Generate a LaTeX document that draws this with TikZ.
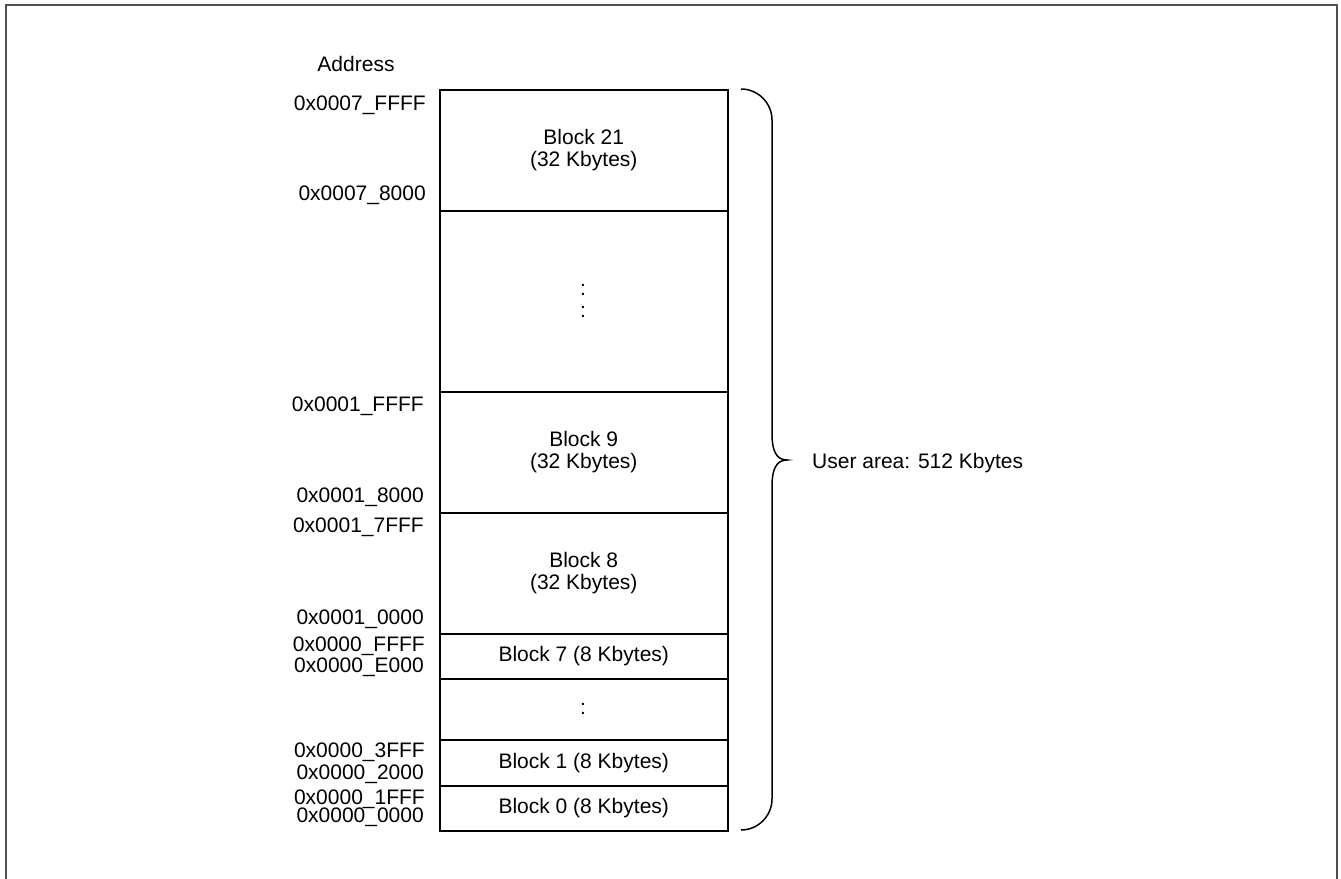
\documentclass[tikz,border=0pt]{standalone}
\usepackage{fontspec}
\setmainfont{Liberation Sans}
\newcommand{\fs}{\fontsize{21}{22}\selectfont}
\definecolor{framegray}{RGB}{80,80,80}
\begin{document}
\begin{tikzpicture}[x=1pt,y=-1pt,
  blk/.style={draw, line width=1.5pt, minimum width=288pt, inner sep=0pt, anchor=north west, align=center, font=\fs},
  addr/.style={anchor=base east, inner sep=0pt, font=\fs},
  plain/.style={inner sep=0pt, font=\fs},
  brace/.style={line width=1.5pt},
  ]
\useasboundingbox (0,0) rectangle (1341,878);
\draw[line width=1.5pt, color=framegray] (6,885) -- (6,5) -- (1337,5) -- (1337,885);

% blocks
\node[blk, minimum height=121pt] (b21) at (439,89) {Block 21\\(32 Kbytes)};
\node[blk, minimum height=181pt] (dots1) at (439,210) {};
\node[blk, minimum height=121pt] (b9) at (439,391) {Block 9\\(32 Kbytes)};
\node[blk, minimum height=121pt] (b8) at (439,512) {Block 8\\(32 Kbytes)};
\node[blk, minimum height=45pt] (b7) at (439,633) {Block 7 (8 Kbytes)};
\node[blk, minimum height=61pt] (dots2) at (439,678) {};
\node[blk, minimum height=46pt] (b1) at (439,739) {Block 1 (8 Kbytes)};
\node[blk, minimum height=45pt] (b0) at (439,785) {Block 0 (8 Kbytes)};

% ellipsis marks
\node[plain] (c1) at (583,289.5) {:};
\node[plain] (c2) at (583,311.5) {:};
\node[plain] (c3) at (583,709) {:};

% addresses
\node[plain, anchor=base] (addrtitle) at (356,71) {Address};
\node[addr] (a1) at (426,110.5) {0x0007\_FFFF};
\node[addr] (a2) at (426,200) {0x0007\_8000};
\node[addr] (a3) at (424,411.5) {0x0001\_FFFF};
\node[addr] (a4) at (424,502.5) {0x0001\_8000};
\node[addr] (a5) at (424,532) {0x0001\_7FFF};
\node[addr] (a6) at (424,624.5) {0x0001\_0000};
\node[addr] (a7) at (425,651.5) {0x0000\_FFFF};
\node[addr] (a8) at (424,672) {0x0000\_E000};
\node[addr] (a9) at (425,757.5) {0x0000\_3FFF};
\node[addr] (a10) at (424,779) {0x0000\_2000};
\node[addr] (a11) at (425,804) {0x0000\_1FFF};
\node[addr] (a12) at (424,822.5) {0x0000\_0000};

% brace
\coordinate (btop) at (741,89);
\coordinate (tip) at (787,460);
\coordinate (bbot) at (741,830);
\draw[brace] (btop) .. controls (758,89) and (772,103) .. (772,120)
  -- (772,434) .. controls (772,450) and (776,460) .. (tip)
  .. controls (776,460) and (772,470) .. (772,486)
  -- (772,799) .. controls (772,816) and (758,830) .. (bbot);
\node[plain, anchor=base west] (ua) at (812,468) {User area: 512 Kbytes};
\end{tikzpicture}
\end{document}
